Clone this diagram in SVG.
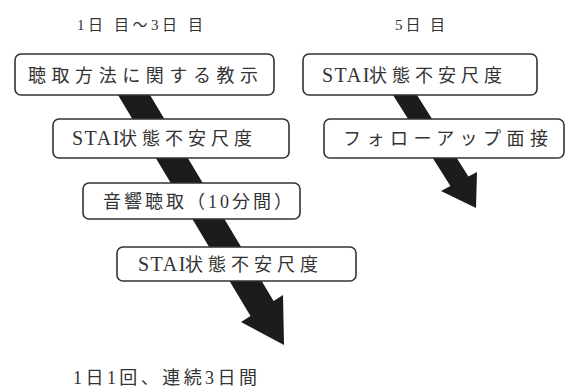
<svg xmlns="http://www.w3.org/2000/svg" width="566" height="389" viewBox="0 0 566 389">
<style>
.box{fill:#fff;stroke:#333;stroke-width:1.6}
.t{font-family:"Liberation Serif","Noto Sans CJK JP",serif;font-size:18px;fill:#333}
.h{font-family:"Liberation Serif","Noto Sans CJK JP",serif;font-size:15px;fill:#333}
.lat{font-size:20px;letter-spacing:1.5px}
.cjk{letter-spacing:5px}
.arr{fill:#1c1c1c}
</style>
<rect width="566" height="389" fill="#fff"/>
<text class="h" x="77" y="30" textLength="126" lengthAdjust="spacing">1日 目～3日 目</text>
<text class="h" x="395" y="30" textLength="50" lengthAdjust="spacing">5日 目</text>
<g id="connectors">
<polygon class="arr" points="109,80 141,80 273.6,301 283,295 284,345 241,322 250.5,316"/>
<polygon class="arr" points="383.5,80 407.5,80 468.4,176.6 477,172 476,208 441,191 450.4,186"/>
</g>
<g id="n1"><rect class="box" x="15" y="54" width="259" height="41" rx="6"/><text class="t" x="28" y="82" textLength="230" lengthAdjust="spacing">聴取方法に関する教示</text></g>
<g id="n2"><rect class="box" x="53" y="119" width="236" height="39" rx="6"/><text class="t" x="72" y="145"><tspan class="lat">STAI</tspan><tspan class="cjk" x="119">状態不安尺度</tspan></text></g>
<g id="n3"><rect class="box" x="83" y="183" width="217" height="36" rx="6"/><text class="t" x="103" y="208" textLength="189" lengthAdjust="spacing">音響聴取（10分間）</text></g>
<g id="n4"><rect class="box" x="117" y="247" width="239" height="34" rx="6"/><text class="t" x="138" y="271"><tspan class="lat">STAI</tspan><tspan class="cjk" x="185">状態不安尺度</tspan></text></g>
<g id="n5"><rect class="box" x="303" y="54" width="234" height="41" rx="6"/><text class="t" x="322" y="82"><tspan class="lat">STAI</tspan><tspan class="cjk" x="369">状態不安尺度</tspan></text></g>
<g id="n6"><rect class="box" x="324" y="119" width="240" height="39" rx="6"/><text class="t" x="343" y="145" textLength="205" lengthAdjust="spacing">フォローアップ面接</text></g>
<text class="t" x="73" y="384" textLength="184" lengthAdjust="spacing">1日1回、連続3日間</text>
</svg>
